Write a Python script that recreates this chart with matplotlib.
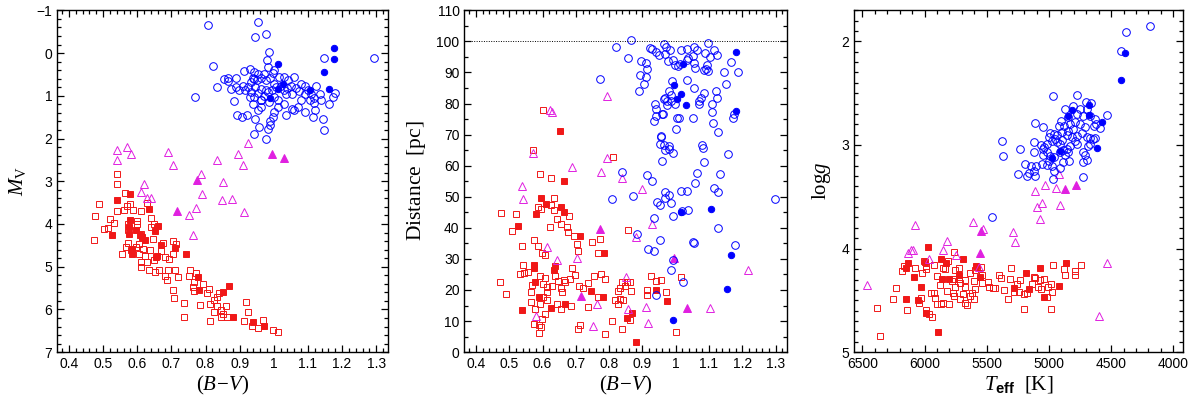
import matplotlib
matplotlib.use("Agg")
import matplotlib.pyplot as plt
from matplotlib.ticker import MultipleLocator, FuncFormatter

plt.rcParams['font.family'] = ['Liberation Sans', 'DejaVu Sans']
plt.rcParams['mathtext.fontset'] = 'custom'
plt.rcParams['mathtext.rm'] = 'Liberation Serif'
plt.rcParams['mathtext.it'] = 'Liberation Serif:italic'
plt.rcParams['mathtext.bf'] = 'Liberation Sans:bold'

# ---------------- Panel 1: (B-V) vs M_V ----------------
p1_giant_open_bv = [0.806, 0.955, 0.945, 0.977, 0.987, 0.821, 0.835, 0.853, 0.865, 0.769, 0.884, 0.893, 0.906, 0.920,
                    0.945, 0.941, 0.958, 0.977, 0.982, 0.990, 0.980, 0.982, 1.000, 1.147, 1.293, 1.144, 1.147, 1.161,
                    1.174, 1.180, 1.124, 1.119, 1.121, 1.114, 1.092, 1.080, 1.070, 1.060, 1.053, 1.036, 1.031, 1.011,
                    1.000, 0.997, 0.990, 0.963, 0.953, 0.939, 0.929, 0.916, 0.909, 0.899, 0.890, 0.875, 0.867, 0.890,
                    0.912, 0.929, 0.943, 0.953, 0.961, 0.971, 0.977, 0.990, 0.997, 1.016, 1.031, 1.043, 1.060, 1.050,
                    1.065, 1.080, 1.090, 1.100, 1.110, 1.105, 1.134, 1.139, 1.053, 1.031, 1.021, 1.007, 0.994, 0.977,
                    0.963, 0.953, 0.945, 0.932, 0.924, 0.932, 0.943, 0.961, 0.972, 0.982, 0.939, 0.951, 1.000, 1.040,
                    1.074, 1.092, 1.117, 1.036, 1.000, 1.011, 0.987, 0.963, 0.943]
p1_giant_open_mv = [-0.65, -0.73, -0.375, -0.44, -0.02, 0.30, 0.80, 0.60, 0.58, 1.03, 1.12, 1.46, 1.50, 1.46,
                    1.54, 1.89, 1.73, 2.00, 1.77, 1.69, 0.17, 0.33, 0.40, 0.11, 0.11, 1.54, 1.79, 1.19,
                    1.03, 0.94, 0.78, 1.17, 1.34, 1.50, 1.38, 1.11, 1.26, 1.34, 1.30, 1.46, 1.19, 1.26,
                    1.38, 1.50, 1.58, 1.26, 1.34, 1.19, 1.03, 0.87, 0.78, 0.87, 0.80, 0.83, 0.66, 0.58,
                    0.41, 0.37, 0.44, 0.48, 0.58, 0.50, 0.64, 0.58, 0.47, 0.56, 0.56, 0.64, 0.55, 0.76,
                    0.81, 0.72, 0.78, 0.87, 0.95, 1.09, 0.97, 1.11, 0.95, 0.87, 0.76, 0.80, 0.87, 0.86,
                    0.83, 0.94, 0.80, 0.68, 0.80, 0.91, 1.03, 1.09, 1.01, 0.91, 0.58, 0.64, 0.72, 0.81,
                    0.89, 0.97, 1.05, 0.95, 1.03, 1.11, 1.15, 1.11, 0.60]
p1_giant_fill_bv = [1.176, 1.176, 1.011, 1.147, 1.163, 0.990, 1.026, 1.011, 1.105]
p1_giant_fill_mv = [-0.12, 0.13, 0.25, 0.44, 0.83, 1.05, 0.72, 0.83, 0.87]

p1_sub_open_bv = [0.540, 0.540, 0.571, 0.581, 0.689, 0.704, 0.620, 0.612, 0.628, 0.640, 0.925, 0.896, 0.909, 0.835,
                  0.788, 0.850, 0.791, 0.847, 0.877, 0.772, 0.914, 0.752, 0.762]
p1_sub_open_mv = [2.26, 2.51, 2.19, 2.37, 2.32, 2.63, 3.06, 3.25, 3.39, 3.39, 2.11, 2.36, 2.63, 2.51,
                  2.83, 3.02, 3.31, 3.45, 3.41, 3.62, 3.72, 3.80, 4.25]
p1_sub_fill_bv = [0.775, 0.716, 0.994, 1.029]
p1_sub_fill_mv = [2.97, 3.70, 2.37, 2.45]

p1_dwarf_fill_bv = [0.579, 0.540, 0.633, 0.579, 0.576, 0.576, 0.596, 0.608, 0.614, 0.624, 0.651, 0.662, 0.527, 0.671,
                    0.710, 0.584, 0.659, 0.742, 0.777, 0.782, 0.850, 0.870, 0.879, 0.938, 0.972, 0.584, 0.655]
p1_dwarf_fill_mv = [3.29, 3.43, 3.65, 3.90, 4.06, 4.23, 4.15, 4.27, 4.31, 4.37, 4.17, 4.04, 4.25, 4.50,
                    4.56, 4.71, 4.76, 4.70, 5.25, 5.54, 5.60, 5.46, 6.18, 6.30, 6.38, 4.58, 4.77]
p1_dwarf_open_bv = [0.540, 0.542, 0.563, 0.488, 0.475, 0.542, 0.561, 0.569, 0.579, 0.588, 0.610, 0.630, 0.640, 0.650,
                    0.640, 0.600, 0.600, 0.572, 0.572, 0.610, 0.645, 0.604, 0.572, 0.567, 0.583, 0.596, 0.604, 0.616,
                    0.623, 0.638, 0.650, 0.610, 0.610, 0.630, 0.635, 0.652, 0.665, 0.690, 0.680, 0.687, 0.710, 0.720,
                    0.704, 0.714, 0.670, 0.694, 0.704, 0.676, 0.680, 0.705, 0.709, 0.738, 0.738, 0.755, 0.753, 0.765,
                    0.762, 0.767, 0.772, 0.785, 0.804, 0.810, 0.814, 0.826, 0.834, 0.838, 0.834, 0.846, 0.860, 0.850,
                    0.846, 0.863, 0.814, 0.826, 0.912, 0.919, 0.924, 0.935, 0.953, 0.968, 0.997, 1.013, 0.554, 0.514,
                    0.521, 0.533, 0.473, 0.503, 0.792]
p1_dwarf_open_mv = [2.84, 3.07, 3.28, 3.53, 3.82, 3.70, 3.67, 3.59, 3.54, 3.67, 3.70, 3.51, 3.86, 4.01,
                    4.06, 3.92, 4.00, 4.00, 4.15, 4.23, 4.35, 4.47, 4.45, 4.54, 4.62, 4.54, 4.70, 4.58,
                    4.74, 4.61, 4.85, 4.89, 5.01, 4.89, 5.07, 5.12, 5.07, 5.07, 5.21, 5.32, 5.07, 5.25,
                    4.39, 4.47, 4.64, 4.82, 4.70, 4.45, 4.78, 5.54, 5.74, 5.85, 6.18, 5.07, 5.21, 5.36,
                    5.48, 5.56, 5.15, 5.89, 5.62, 5.52, 5.87, 5.78, 5.70, 5.61, 5.93, 6.02, 5.93, 6.10,
                    6.18, 6.18, 6.27, 6.06, 6.27, 5.83, 6.06, 6.38, 6.43, 6.25, 6.49, 6.53, 4.70, 4.09,
                    3.88, 3.98, 4.37, 4.11, 5.40]

# ---------------- Panel 2: (B-V) vs distance ----------------
p2_giant_open_bv = [0.865, 0.822, 0.857, 0.771, 0.897, 0.912, 0.915, 0.894, 0.910, 0.904, 0.889, 0.922, 0.929, 0.940,
                    0.950, 0.965, 0.972, 0.982, 0.967, 0.977, 0.992, 0.999, 1.007, 1.012, 1.015, 1.035, 1.037, 1.035,
                    1.051, 1.056, 1.064, 1.054, 1.058, 1.088, 1.098, 1.104, 1.116, 1.124, 1.094, 1.091, 1.098, 1.084,
                    1.146, 1.166, 1.186, 1.152, 0.989, 1.034, 1.056, 0.980, 0.985, 0.969, 0.965, 0.975, 0.985, 0.997,
                    0.974, 1.084, 1.076, 1.071, 1.069, 1.121, 1.124, 1.110, 1.108, 1.111, 1.126, 1.173, 1.176, 0.939,
                    0.942, 0.940, 0.935, 0.959, 0.962, 1.005, 1.009, 1.052, 1.000, 0.957, 0.952, 0.965, 0.980, 1.079,
                    0.838, 0.915, 0.929, 0.810, 0.872, 0.885, 0.934, 0.944, 0.952, 0.959, 0.952, 0.957,
                    0.967, 0.979, 0.985, 0.992, 0.969, 0.969, 0.979, 0.992, 1.015, 1.034, 1.018, 1.038, 1.052, 1.058,
                    1.064, 1.081, 1.084, 1.114, 1.128, 1.134, 1.158, 1.128, 1.178, 1.298,
                    0.917, 0.934, 1.054, 0.992, 0.985, 1.022, 0.942]
p2_giant_open_d = [100.3, 98.1, 94.6, 87.9, 93.8, 92.9, 91.0, 89.3, 88.6, 86.2, 84.1, 97.9, 97.7, 96.5,
                   95.6, 99.2, 98.1, 97.1, 96.0, 93.8, 94.0, 92.5, 92.2, 92.7, 97.3, 97.6, 94.7, 94.1,
                   95.3, 98.3, 97.3, 92.9, 91.4, 96.4, 99.6, 95.1, 97.3, 95.6, 92.5, 91.1, 90.4, 90.8,
                   90.2, 93.3, 90.0, 86.2, 87.1, 87.5, 85.0, 84.1, 82.8, 81.9, 81.4, 80.9, 80.9, 80.0,
                   79.4, 83.5, 81.7, 80.9, 80.0, 83.9, 81.9, 80.0, 77.2, 73.8, 70.8, 75.4, 76.7, 79.8,
                   78.1, 76.0, 74.4, 76.7, 76.5, 75.4, 75.2, 75.4, 71.9, 69.5, 67.1, 66.8, 66.3, 66.5,
                   57.9, 56.9, 55.1, 49.3, 50.4, 37.9, 43.3, 48.4, 47.3, 61.4, 36.0, 69.2,
                   51.4, 50.6, 48.0, 43.9, 49.7, 65.2, 65.5, 64.0, 51.9, 51.9, 45.4, 45.6, 35.4, 54.3,
                   57.6, 65.7, 61.2, 52.7, 51.4, 57.3, 63.9, 40.0, 34.6, 49.3,
                   33.3, 32.5, 35.2, 29.8, 26.5, 22.5, 18.5]
p2_giant_fill_bv = [1.181, 1.022, 0.995, 1.017, 1.005, 1.032, 1.181, 1.015, 1.106, 1.167, 1.153, 0.992]
p2_giant_fill_d = [96.7, 92.7, 86.0, 83.0, 81.6, 79.4, 77.6, 45.2, 46.0, 31.1, 20.2, 10.3]

p2_sub_open_bv = [0.793, 0.622, 0.629, 0.572, 0.795, 0.689, 0.775, 0.840, 0.900, 0.539, 0.541, 0.882, 0.930,
                  0.612, 0.642, 0.703, 0.850, 0.763, 0.856, 0.912, 0.916, 0.751, 0.581, 1.104, 1.217]
p2_sub_open_d = [82.4, 77.8, 77.4, 64.1, 62.5, 59.5, 57.9, 56.0, 52.4, 53.6, 49.3, 37.1, 41.2,
                 33.8, 29.8, 30.3, 24.1, 15.6, 14.0, 14.6, 9.3, 8.4, 11.6, 14.1, 26.3]
p2_sub_fill_bv = [0.773, 0.715, 1.033, 0.996]
p2_sub_fill_d = [39.6, 18.1, 14.3, 30.4]

p2_dwarf_fill_bv = [0.652, 0.664, 0.596, 0.609, 0.655, 0.664, 0.579, 0.527, 0.711,
                    0.783, 0.574, 0.574, 0.634, 0.637, 0.577, 0.589, 0.539, 0.626, 0.668, 0.746, 0.780, 0.940,
                    0.974, 0.870, 0.853, 0.882]
p2_dwarf_fill_d = [71.1, 55.1, 49.7, 47.6, 46.7, 45.0, 44.3, 40.7, 37.3,
                   31.9, 28.1, 27.2, 26.5, 27.6, 22.7, 17.9, 13.6, 14.1, 15.6, 19.8, 17.7, 20.0,
                   16.6, 12.5, 11.0, 3.2]
p2_dwarf_open_bv = [0.601, 0.572, 0.813, 0.591, 0.626, 0.586, 0.596, 0.626, 0.634, 0.634, 0.474, 0.521, 0.642,
                    0.654, 0.678, 0.507, 0.621, 0.673, 0.676, 0.693, 0.856,
                    0.539, 0.574, 0.586, 0.606, 0.599, 0.703, 0.748, 0.771, 0.765, 0.542, 0.532, 0.544, 0.556,
                    0.472, 0.489, 0.564, 0.569, 0.577, 0.564, 0.591, 0.607, 0.602, 0.612, 0.612, 0.602, 0.614,
                    0.592, 0.607, 0.597, 0.574, 0.589, 0.596, 0.589, 0.629, 0.636, 0.646, 0.654, 0.659, 0.663,
                    0.668, 0.655, 0.642, 0.685, 0.681, 0.688, 0.696, 0.708, 0.721, 0.735, 0.735, 0.753, 0.775,
                    0.788, 0.765, 0.808, 0.838, 0.788, 0.706, 0.711, 0.818, 0.826, 0.833, 0.841, 0.828, 0.833,
                    0.838, 0.855, 0.848, 0.862, 0.865, 0.864, 0.913, 0.915, 0.927, 0.940, 0.957, 0.970, 1.017,
                    1.002, 0.705]
p2_dwarf_open_d = [77.8, 65.2, 62.8, 57.3, 56.2, 46.8, 46.0, 47.3, 49.5, 45.7, 44.9, 44.3, 43.0,
                   41.1, 43.7, 39.0, 40.4, 40.4, 38.7, 37.4, 39.2,
                   34.1, 36.0, 34.3, 31.1, 32.0, 34.9, 35.4, 36.3, 31.9, 27.9, 25.2, 25.4, 25.7,
                   22.5, 18.7, 19.2, 21.7, 14.0, 16.0, 24.4, 23.7, 21.9, 21.0, 19.4, 17.6, 16.8,
                   15.4, 12.2, 10.6, 9.2, 8.7, 8.2, 6.0, 21.4, 24.4, 23.0, 20.5, 19.4, 23.2,
                   22.5, 13.8, 15.4, 14.9, 23.5, 27.0, 24.8, 21.4, 20.5, 22.2, 14.6, 24.4, 25.2,
                   23.5, 17.6, 10.0, 7.5, 5.7, 7.5, 8.6, 16.8, 15.6, 17.0, 16.8, 19.8, 20.5,
                   22.5, 22.7, 21.4, 22.7, 19.8, 10.3, 20.1, 18.3, 24.4, 23.0, 23.3, 19.5, 24.3,
                   6.5, 32.5]

# ---------------- Panel 3: Teff vs log g ----------------
p3_giant_open_t = [4188, 4383, 4423, 4971, 4776, 4870, 4808, 5110, 5049, 4530, 4701, 4661, 4750, 4691, 4776,
                   4728, 4669, 4629, 4589, 4635, 4621, 4843, 4905, 4923, 4878, 4830, 4790, 4750, 4709, 4803,
                   4843, 4896, 4937, 4963, 4990, 5003, 4977, 4937, 4896, 4856, 4816, 4776, 4736, 4691, 4669,
                   4643, 4629, 4682, 4669, 4771, 4790, 4830, 4856, 4883, 4910, 4870, 4843, 4728, 4709, 4696,
                   4728, 4883, 4835, 5017, 5043, 5065, 5049, 5017, 5049, 4990, 4963, 5003, 5124, 5124, 5236,
                   5378, 5370, 5191, 5145, 5102, 5057, 5017, 4977, 4963, 5124, 5164, 5177, 5110, 5252, 4728,
                   4915, 4950, 4915, 5458, 4964]
p3_giant_open_g = [1.851, 1.913, 2.090, 2.529, 2.513, 2.651, 2.625, 2.787, 2.822, 2.706, 2.587, 2.597, 2.651,
                   2.651, 2.700, 2.722, 2.722, 2.748, 2.838, 2.812, 2.796, 2.732, 2.764, 2.812, 2.819, 2.796,
                   2.774, 2.796, 2.829, 2.845, 2.861, 2.877, 2.903, 2.893, 2.883, 2.925, 2.958, 2.967, 2.948,
                   2.903, 2.925, 2.909, 2.883, 2.925, 2.935, 2.942, 2.935, 3.006, 2.990, 2.990, 2.958, 3.012,
                   3.038, 3.045, 3.064, 3.096, 3.071, 3.071, 3.096, 3.141, 3.161, 3.167, 3.151, 2.990, 3.022,
                   3.000, 3.038, 3.071, 3.096, 3.103, 3.119, 3.151, 2.974, 3.064, 3.038, 2.958, 3.103, 3.184,
                   3.200, 3.200, 3.184, 3.193, 3.200, 3.248, 3.248, 3.270, 3.296, 3.296, 3.280, 3.313, 3.225,
                   2.942, 2.990, 3.691, 3.329]
p3_giant_fill_t = [4386, 4421, 4816, 4675, 4675, 4843, 4576, 4616, 4910, 4977]
p3_giant_fill_g = [2.113, 2.370, 2.658, 2.612, 2.709, 2.722, 2.780, 3.032, 3.054, 3.125]

p3_sub_open_t = [4923, 5110, 5030, 4942, 5057, 5097, 5070, 4910, 6460, 6081, 6134, 6113, 6094, 5961, 5854, 5824,
                 5744, 5613, 5533, 5560, 5290, 5276, 4530, 4597]
p3_sub_open_g = [3.280, 3.440, 3.383, 3.420, 3.562, 3.594, 3.710, 3.581, 4.355, 3.771, 4.039, 4.013, 4.013,
                 4.104, 4.016, 3.926, 4.065, 3.739, 3.813, 4.178, 3.836, 3.936, 4.136, 4.652]
p3_sub_fill_t = [4870, 4782, 5544, 5552]
p3_sub_fill_g = [3.426, 3.383, 3.829, 4.046]

p3_dwarf_fill_t = [5974, 6132, 6153, 6084, 6033, 6001, 6148, 6057, 5985, 5891, 5867, 5827, 5864, 5806, 5693,
                   5720, 5586, 5557, 5183, 5279, 5159, 5068, 5041, 4921, 4862]
p3_dwarf_fill_g = [3.984, 4.136, 4.190, 4.275, 4.368, 4.129, 4.491, 4.497, 4.620, 4.807, 4.104, 4.136, 4.297,
                   4.297, 4.104, 4.258, 4.168, 4.271, 4.239, 4.378, 4.394, 4.190, 4.465, 4.362, 4.136]
p3_dwarf_open_t = [6380, 6359, 6233, 6255, 6180, 6166, 6145, 6081, 6046, 6033, 6019, 5993, 5985, 6006, 5923,
                   5993, 5966, 5939, 5926, 5918, 5899, 5878, 5854, 5838, 5872, 5854, 5824, 5806, 5811, 5763,
                   5779, 5766, 5757, 5773, 5766, 5752, 5720, 5725, 5712, 5712, 5693, 5677, 5672, 5672, 5656,
                   5632, 5632, 5618, 5605, 5600, 5597, 5597, 5578, 5546, 5538, 5538, 5490, 5485, 5453, 5437,
                   5399, 5389, 5365, 5330, 5316, 5306, 5284, 5258, 5231, 5239, 5199, 5204, 5177, 5137, 5119,
                   5111, 5089, 5070, 5062, 5041, 5017, 5009, 4977, 4982, 4982, 4964, 4875, 4870, 4790, 4790,
                   4742, 5945, 5899]
p3_dwarf_open_g = [4.578, 4.846, 4.384, 4.491, 4.217, 4.168, 4.597, 4.190, 4.529, 4.481, 4.239, 4.200, 4.168,
                   4.120, 4.162, 4.597, 4.629, 4.658, 4.426, 4.475, 4.265, 4.355, 4.184, 4.200, 4.539, 4.529,
                   4.410, 4.539, 4.120, 4.029, 4.313, 4.291, 4.207, 4.433, 4.458, 4.368, 4.184, 4.297, 4.336,
                   4.484, 4.442, 4.368, 4.304, 4.523, 4.549, 4.239, 4.458, 4.426, 4.484, 4.313, 4.387, 4.210,
                   4.175, 4.178, 4.255, 4.336, 4.320, 4.368, 4.384, 4.384, 4.255, 4.284, 4.400, 4.491, 4.291,
                   4.190, 4.420, 4.346, 4.307, 4.420, 4.587, 4.442, 4.432, 4.346, 4.271, 4.288, 4.368, 4.304,
                   4.387, 4.297, 4.465, 4.368, 4.420, 4.346, 4.581, 4.162, 4.200, 4.258, 4.216, 4.258, 4.162,
                   4.433, 4.539]

BLUE = '#0000ff'
RED = '#f01818'
MAG = '#e020e0'
LW = 0.7


def draw_groups(ax, groups):
    for x, y, marker, color, filled, ms in groups:
        ax.plot(x, y, linestyle='none', marker=marker, markersize=ms,
                markeredgecolor=color, markerfacecolor=color if filled else 'none',
                markeredgewidth=LW)


def style(ax, xmaj, xmin, ymaj, ymin):
    ax.xaxis.set_major_locator(MultipleLocator(xmaj))
    ax.xaxis.set_minor_locator(MultipleLocator(xmin))
    ax.yaxis.set_major_locator(MultipleLocator(ymaj))
    ax.yaxis.set_minor_locator(MultipleLocator(ymin))
    ax.tick_params(which='both', direction='in', top=True, right=True, width=0.9, labelsize=10)
    ax.tick_params(which='major', length=5)
    ax.tick_params(which='minor', length=2.6)
    for s in ax.spines.values():
        s.set_linewidth(1.0)


def gfmt(v, pos):
    s = ('%.2f' % v).rstrip('0').rstrip('.')
    if s.startswith('-'):
        s = '\u2212' + s[1:]
    return s


fig = plt.figure(figsize=(12, 3.97), dpi=100)
ax1 = fig.add_axes([0.0475, 0.113, 0.276, 0.861])
ax2 = fig.add_axes([0.387, 0.113, 0.269, 0.861])
ax3 = fig.add_axes([0.712, 0.113, 0.274, 0.861])

SQ, CI, TR = 4.5, 5.5, 5.7
FC = 4.6
draw_groups(ax1, [
    (p1_dwarf_open_bv, p1_dwarf_open_mv, 's', RED, False, SQ),
    (p1_dwarf_fill_bv, p1_dwarf_fill_mv, 's', RED, True, SQ),
    (p1_sub_open_bv, p1_sub_open_mv, '^', MAG, False, TR),
    (p1_sub_fill_bv, p1_sub_fill_mv, '^', MAG, True, TR),
    (p1_giant_open_bv, p1_giant_open_mv, 'o', BLUE, False, CI),
    (p1_giant_fill_bv, p1_giant_fill_mv, 'o', BLUE, True, FC),
])
ax1.set_xlim(0.365, 1.335)
ax1.set_ylim(7, -1)
style(ax1, 0.1, 0.02, 1, 0.2)
ax1.xaxis.set_major_formatter(FuncFormatter(gfmt))
ax1.yaxis.set_major_formatter(FuncFormatter(gfmt))
ax1.set_xlabel(r'$(B\!-\!V)$', fontsize=15, labelpad=2)
ax1.set_ylabel(r'$M_{\rm V}$', fontsize=15, labelpad=6)

draw_groups(ax2, [
    (p2_dwarf_open_bv, p2_dwarf_open_d, 's', RED, False, SQ),
    (p2_dwarf_fill_bv, p2_dwarf_fill_d, 's', RED, True, SQ),
    (p2_sub_open_bv, p2_sub_open_d, '^', MAG, False, TR),
    (p2_sub_fill_bv, p2_sub_fill_d, '^', MAG, True, TR),
    (p2_giant_open_bv, p2_giant_open_d, 'o', BLUE, False, CI),
    (p2_giant_fill_bv, p2_giant_fill_d, 'o', BLUE, True, FC),
])
ax2.axhline(100, color='black', linestyle=(0, (1, 1.5)), linewidth=0.7)
ax2.set_xlim(0.365, 1.335)
ax2.set_ylim(0, 110)
style(ax2, 0.1, 0.02, 10, 5)
ax2.xaxis.set_major_formatter(FuncFormatter(gfmt))
ax2.set_xlabel(r'$(B\!-\!V)$', fontsize=15, labelpad=2)
ax2.set_ylabel(r'$\rm Distance\ \ [pc]$', fontsize=15.5, labelpad=6)

draw_groups(ax3, [
    (p3_dwarf_open_t, p3_dwarf_open_g, 's', RED, False, SQ),
    (p3_dwarf_fill_t, p3_dwarf_fill_g, 's', RED, True, SQ),
    (p3_sub_open_t, p3_sub_open_g, '^', MAG, False, TR),
    (p3_sub_fill_t, p3_sub_fill_g, '^', MAG, True, TR),
    (p3_giant_open_t, p3_giant_open_g, 'o', BLUE, False, CI),
    (p3_giant_fill_t, p3_giant_fill_g, 'o', BLUE, True, FC),
])
ax3.set_xlim(6565, 3920)
ax3.set_ylim(5, 1.7)
style(ax3, 500, 100, 1, 0.1)
ax3.xaxis.set_major_formatter(FuncFormatter(lambda v, p: '%d' % v))
ax3.yaxis.set_major_formatter(FuncFormatter(lambda v, p: '%d' % v))
ax3.set_xlabel(r'$T_{\mathbf{eff}}\ \ {\rm [K]}$', fontsize=15, labelpad=2)
ax3.set_ylabel(r'$\rm log\mathit{g}$', fontsize=15, labelpad=6)

fig.savefig('out.png', dpi=100)
